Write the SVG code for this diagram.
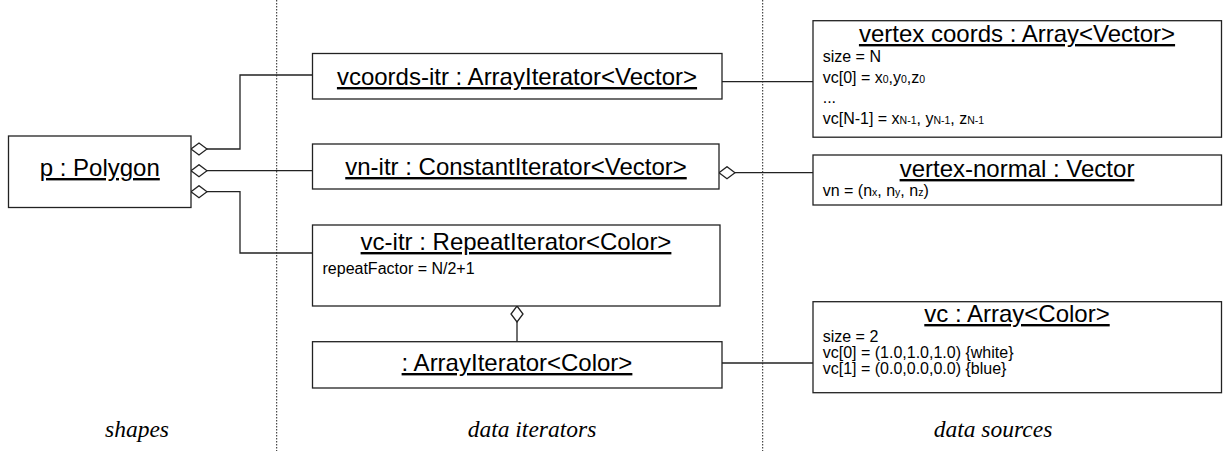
<svg xmlns="http://www.w3.org/2000/svg" width="1223" height="451" viewBox="0 0 1223 451">
  <defs>
    <style>
      .box { fill: #fff; stroke: #222; stroke-width: 1.3; }
      .conn { fill: none; stroke: #222; stroke-width: 1.3; }
      .divider { stroke: #222; stroke-width: 1; stroke-dasharray: 1.5 1.5; }
      .title { font-family: "Liberation Sans", Arial, sans-serif; font-size: 24px; fill: #000; text-anchor: middle; text-decoration: underline; }
      .attr { font-family: "Liberation Sans", Arial, sans-serif; font-size: 16px; fill: #000; }
      .sub { font-size: 10.5px; }
      .lane { font-family: "Liberation Serif", "Times New Roman", serif; font-style: italic; font-size: 23.5px; fill: #000; text-anchor: middle; }
    </style>
    <marker id="diamond" markerUnits="userSpaceOnUse" markerWidth="18" markerHeight="14" viewBox="-1 -7 18 14" refX="0" refY="0" orient="auto">
      <path d="M0,0 L8,-6 L16,0 L8,6 Z" fill="#fff" stroke="#222" stroke-width="1.3"/>
    </marker>
  </defs>

  <!-- lane dividers -->
  <g id="dividers">
    <line class="divider" x1="276.7" y1="0" x2="276.7" y2="451"/>
    <line class="divider" x1="762.7" y1="0" x2="762.7" y2="451"/>
  </g>

  <!-- connectors -->
  <g id="connectors">
    <path class="conn" marker-start="url(#diamond)" d="M191,149 H240 V75 H312.5"/>
    <path class="conn" marker-start="url(#diamond)" d="M191,170.7 H312.5"/>
    <path class="conn" marker-start="url(#diamond)" d="M191,191.7 H240 V253 H312.5"/>
    <path class="conn" d="M722,81.7 H813"/>
    <path class="conn" marker-start="url(#diamond)" d="M719,172.7 H813"/>
    <path class="conn" marker-start="url(#diamond)" d="M517,306 V341.7"/>
    <path class="conn" d="M722,363 H813"/>
  </g>

  <g id="polygon">
    <rect class="box" x="8.5" y="136" width="182.5" height="71.5"/>
    <text class="title" x="99.75" y="176">p : Polygon</text>
  </g>

  <g id="vcoords-itr">
    <rect class="box" x="312.5" y="53.5" width="409.5" height="45.5"/>
    <text class="title" x="517" y="85">vcoords-itr : ArrayIterator&lt;Vector&gt;</text>
  </g>

  <g id="vn-itr">
    <rect class="box" x="312.5" y="144" width="406.5" height="45"/>
    <text class="title" x="516" y="175">vn-itr : ConstantIterator&lt;Vector&gt;</text>
  </g>

  <g id="vc-itr">
    <rect class="box" x="312.5" y="225" width="407.5" height="81"/>
    <text class="title" x="516" y="250">vc-itr : RepeatIterator&lt;Color&gt;</text>
    <text class="attr" x="322.5" y="274">repeatFactor = N/2+1</text>
  </g>

  <g id="color-itr">
    <rect class="box" x="312.5" y="341.7" width="409.5" height="46.3"/>
    <text class="title" x="517" y="371">: ArrayIterator&lt;Color&gt;</text>
  </g>

  <g id="vertex-coords">
    <rect class="box" x="813" y="20.7" width="408.5" height="116.5"/>
    <text class="title" x="1017" y="42">vertex coords : Array&lt;Vector&gt;</text>
    <text class="attr" x="822.7" y="62">size = N</text>
    <text class="attr" x="822.7" y="83">vc[0] = x<tspan class="sub">0</tspan>,y<tspan class="sub">0</tspan>,z<tspan class="sub">0</tspan></text>
    <text class="attr" x="822.7" y="103">...</text>
    <text class="attr" x="822.7" y="124">vc[N-1] = x<tspan class="sub">N-1</tspan>, y<tspan class="sub">N-1</tspan>, z<tspan class="sub">N-1</tspan></text>
  </g>

  <g id="vertex-normal">
    <rect class="box" x="813" y="155" width="408.5" height="50"/>
    <text class="title" x="1017" y="177">vertex-normal : Vector</text>
    <text class="attr" x="822.7" y="196">vn = (n<tspan class="sub">x</tspan>, n<tspan class="sub">y</tspan>, n<tspan class="sub">z</tspan>)</text>
  </g>

  <g id="vc">
    <rect class="box" x="813" y="301.7" width="408.5" height="91"/>
    <text class="title" x="1017" y="322">vc : Array&lt;Color&gt;</text>
    <text class="attr" x="822.7" y="342">size = 2</text>
    <text class="attr" x="822.7" y="358">vc[0] = (1.0,1.0,1.0) {white}</text>
    <text class="attr" x="822.7" y="374">vc[1] = (0.0,0.0,0.0) {blue}</text>
  </g>

  <g id="lanes">
    <text class="lane" x="137" y="437">shapes</text>
    <text class="lane" x="532" y="437">data iterators</text>
    <text class="lane" x="993" y="437">data sources</text>
  </g>
</svg>
